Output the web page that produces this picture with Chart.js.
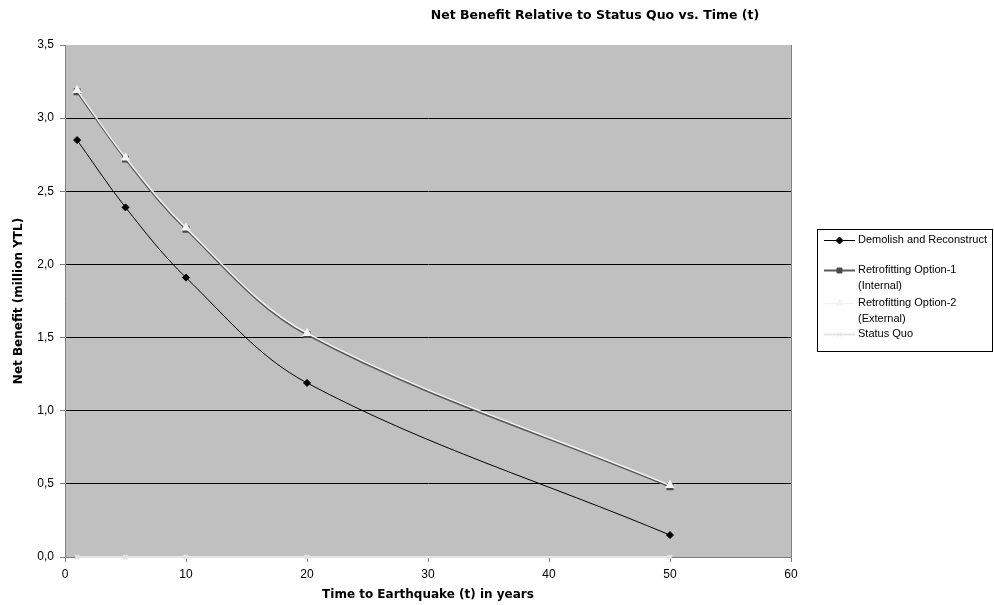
<!DOCTYPE html>
<html>
<head>
<meta charset="utf-8">
<script src="https://cdn.jsdelivr.net/npm/chart.js@4/dist/chart.umd.min.js"></script>
<style>
  html, body { margin: 0; padding: 0; background: #ffffff; }
  canvas { display: block; }
</style>
</head>
<body>
<canvas id="chart" width="994" height="605"></canvas>
<script>
// Time to earthquake (years) and net benefit (million YTL) per option
const years = [1, 5, 10, 20, 50];
const demolish = [2.85, 2.39, 1.91, 1.19, 0.15];
const retrofit1 = [3.18, 2.72, 2.24, 1.52, 0.48];
const retrofit2 = [3.19, 2.73, 2.25, 1.53, 0.49];
const statusQuo = [0, 0, 0, 0, 0];

const seriesNames = [
  ['Demolish and Reconstruct'],
  ['Retrofitting Option-1', '(Internal)'],
  ['Retrofitting Option-2', '(External)'],
  ['Status Quo']
];
const chartTitle = 'Net Benefit Relative to Status Quo vs. Time (t)';
const xTitle = 'Time to Earthquake (t) in years';
const yTitle = 'Net Benefit (million YTL)';

const FONT = '"Liberation Sans", Arial, sans-serif';
const BOLD_FONT = '"DejaVu Sans", Verdana, sans-serif';

function pts(values) {
  return years.map((x, i) => ({ x: x, y: values[i] }));
}

// Grey plot area with a thin border on the right
const plotBackground = {
  id: 'plotBackground',
  beforeDraw(chart) {
    const { ctx, chartArea: a } = chart;
    ctx.save();
    ctx.fillStyle = '#c0c0c0';
    ctx.fillRect(a.left, a.top, a.right - a.left, a.bottom - a.top);
    ctx.strokeStyle = '#808080';
    ctx.lineWidth = 1;
    ctx.beginPath();
    ctx.moveTo(Math.round(a.right) + 0.5, a.top);
    ctx.lineTo(Math.round(a.right) + 0.5, a.bottom);
    ctx.stroke();
    ctx.restore();
  }
};

// Chart heading, set over the upper right
const heading = {
  id: 'heading',
  afterDraw(chart) {
    const ctx = chart.ctx;
    ctx.save();
    ctx.font = 'bold 12.5px ' + BOLD_FONT;
    ctx.fillStyle = '#000000';
    ctx.textAlign = 'center';
    ctx.textBaseline = 'middle';
    ctx.fillText(chartTitle, 595, 16);
    ctx.restore();
  }
};

// Boxed legend at the right, names may wrap onto two lines
const boxLegend = {
  id: 'boxLegend',
  afterDraw(chart) {
    const ctx = chart.ctx;
    const left = 817, top = 229, right = 993, bottom = 352;
    ctx.save();
    ctx.fillStyle = '#ffffff';
    ctx.fillRect(left, top, right - left, bottom - top);
    ctx.strokeStyle = '#000000';
    ctx.lineWidth = 1;
    ctx.strokeRect(left + 0.5, top + 0.5, right - left - 1, bottom - top - 1);

    const rows = [240, 270, 303, 334];
    const lineGap = 16;
    ctx.font = '11px ' + FONT;
    ctx.textBaseline = 'middle';
    ctx.textAlign = 'left';
    chart.data.datasets.forEach((ds, i) => {
      const y = rows[i];
      ctx.strokeStyle = ds.borderColor;
      ctx.lineWidth = ds.borderWidth;
      ctx.beginPath();
      ctx.moveTo(824, y + 0.5);
      ctx.lineTo(855, y + 0.5);
      ctx.stroke();
      ctx.save();
      ctx.fillStyle = ds.pointBackgroundColor;
      ctx.strokeStyle = ds.pointBorderColor;
      ctx.lineWidth = 1;
      Chart.helpers.drawPoint(ctx, {
        pointStyle: ds.pointStyle,
        radius: ds.pointRadius,
        rotation: 0,
        borderWidth: 1
      }, 839.5, y + 0.5);
      ctx.restore();
      ctx.fillStyle = '#000000';
      seriesNames[i].forEach((t, k) => ctx.fillText(t, 858, y + k * lineGap));
    });
    ctx.restore();
  }
};

const chart = new Chart(document.getElementById('chart'), {
  type: 'line',
  data: {
    datasets: [
      {
        label: seriesNames[0].join(' '),
        data: pts(demolish),
        borderColor: '#000000',
        borderWidth: 1,
        pointStyle: 'rectRot',
        pointRadius: 3.5,
        pointBackgroundColor: '#000000',
        pointBorderColor: '#000000',
        tension: 0.35,
        order: 0
      },
      {
        label: seriesNames[1].join(' '),
        data: pts(retrofit1),
        borderColor: '#5a5a5a',
        borderWidth: 2,
        pointStyle: 'rect',
        pointRadius: 3.5,
        pointBackgroundColor: '#4a4a4a',
        pointBorderColor: '#4a4a4a',
        tension: 0.35,
        order: 3
      },
      {
        label: seriesNames[2].join(' '),
        data: pts(retrofit2),
        borderColor: '#f2f2f2',
        borderWidth: 1.5,
        pointStyle: 'triangle',
        pointRadius: 4,
        pointBackgroundColor: '#f4f4f4',
        pointBorderColor: '#f4f4f4',
        tension: 0.35,
        order: 2
      },
      {
        label: seriesNames[3].join(' '),
        data: pts(statusQuo),
        borderColor: '#e4e4e4',
        borderWidth: 2,
        pointStyle: 'crossRot',
        pointRadius: 3,
        pointBackgroundColor: '#e4e4e4',
        pointBorderColor: '#e4e4e4',
        tension: 0,
        clip: false,
        order: 1
      }
    ]
  },
  options: {
    responsive: false,
    animation: false,
    devicePixelRatio: 1,
    layout: { padding: { top: 45, right: 203, left: 0, bottom: 0 } },
    plugins: {
      legend: { display: false },
      tooltip: { enabled: false },
      title: { display: false }
    },
    scales: {
      x: {
        type: 'linear',
        min: 0,
        max: 60,
        afterFit(s) { s.height = 48; },
        ticks: {
          stepSize: 10,
          color: '#000000',
          padding: 5,
          font: { family: FONT, size: 12 }
        },
        grid: {
          drawOnChartArea: false,
          drawTicks: true,
          tickLength: 5,
          tickColor: '#808080'
        },
        border: { color: '#808080', width: 1 },
        title: {
          display: true,
          text: xTitle,
          color: '#000000',
          padding: { top: 0, bottom: 3 },
          font: { family: BOLD_FONT, size: 12, weight: 'bold' }
        }
      },
      y: {
        min: 0,
        max: 3.5,
        afterFit(s) { s.width = 65; },
        ticks: {
          stepSize: 0.5,
          color: '#000000',
          padding: 6,
          font: { family: FONT, size: 12 },
          callback: v => v.toFixed(1).replace('.', ',')
        },
        grid: {
          color: ctx => (ctx.tick && ctx.tick.value > 0 && ctx.tick.value < 3.5) ? '#000000' : 'rgba(0,0,0,0)',
          lineWidth: 1,
          drawTicks: true,
          tickLength: 5,
          tickColor: '#808080'
        },
        border: { color: '#808080', width: 1 },
        title: {
          display: true,
          text: yTitle,
          color: '#000000',
          padding: { top: 12, bottom: 0 },
          font: { family: BOLD_FONT, size: 12, weight: 'bold' }
        }
      }
    }
  },
  plugins: [plotBackground, heading, boxLegend]
});
</script>
</body>
</html>
